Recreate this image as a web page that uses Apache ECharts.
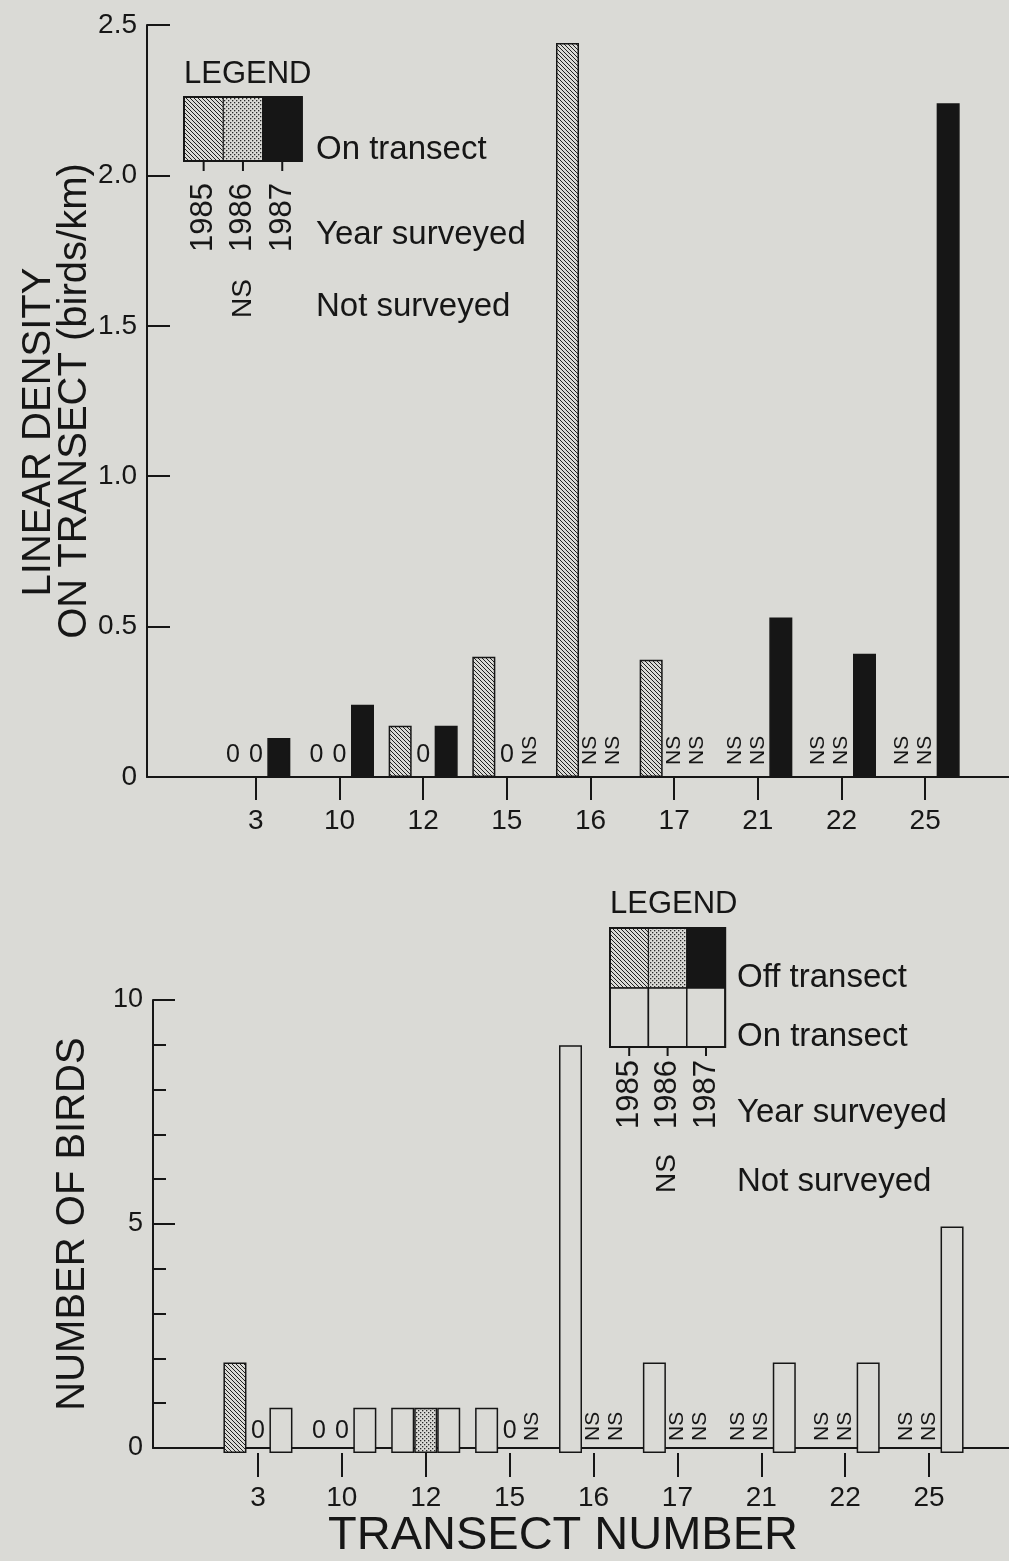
<!DOCTYPE html>
<html>
<head>
<meta charset="utf-8">
<script src="https://cdn.jsdelivr.net/npm/echarts@6/dist/echarts.min.js"></script>
<style>
html,body{margin:0;padding:0;background:#dadad6;}
#chart{width:1009px;height:1561px;}
</style>
</head>
<body>
<div id="chart"></div>
<script>
// ---------- data ----------
const transects = ['3', '10', '12', '15', '16', '17', '21', '22', '25'];
const yearNames = ['1985', '1986', '1987'];
// Linear density on transect (birds/km); null = not surveyed (NS)
const density1985 = [0, 0, 0.17, 0.40, 2.44, 0.39, null, null, null];
const density1986 = [0, 0, 0, 0, null, null, null, null, null];
const density1987 = [0.13, 0.24, 0.17, null, null, null, 0.53, 0.41, 2.24];
// Number of birds; null = not surveyed (NS)
const onBirds1985 = [0, 0, 1, 1, 9, 2, null, null, null];
const offBirds1985 = [2, 0, 0, 0, 0, 0, null, null, null];
const onBirds1986 = [0, 0, 0, 0, null, null, null, null, null];
const offBirds1986 = [0, 0, 1, 0, null, null, null, null, null];
const onBirds1987 = [1, 1, 1, null, null, null, 2, 2, 5];
const offBirds1987 = [0, 0, 0, null, null, null, 0, 0, 0];
const densityTicks = [0, 0.5, 1.0, 1.5, 2.0, 2.5];
const birdTicks = [0, 5, 10];

// ---------- styles ----------
const PAPER = '#dadad6';
const INK = '#161616';
const FONT = '"Liberation Sans", Arial, Helvetica, sans-serif';

function hatchCanvas() {
  const n = 4;
  const c = document.createElement('canvas');
  c.width = n; c.height = n;
  const g = c.getContext('2d');
  g.fillStyle = PAPER; g.fillRect(0, 0, n, n);
  g.strokeStyle = INK; g.lineWidth = 0.95;
  g.beginPath();
  g.moveTo(-1, -1); g.lineTo(n + 1, n + 1);
  g.moveTo(-1, n - 1); g.lineTo(1, n + 1);
  g.moveTo(n - 1, -1); g.lineTo(n + 1, 1);
  g.stroke();
  return c;
}
function dotCanvas() {
  const c = document.createElement('canvas');
  c.width = 4; c.height = 4;
  const g = c.getContext('2d');
  g.fillStyle = PAPER; g.fillRect(0, 0, 4, 4);
  g.fillStyle = '#2a2a2a';
  g.fillRect(0, 0, 1.3, 1.3);
  g.fillRect(2, 2, 1.3, 1.3);
  return c;
}
const hatchFill = { image: hatchCanvas(), repeat: 'repeat' };
const dotFill = { image: dotCanvas(), repeat: 'repeat' };
const yearFills = [hatchFill, dotFill, INK];

const zeroLabel = { show: true, position: 'top', distance: 9, formatter: '0', fontSize: 25, color: INK, fontFamily: FONT };
const nsLabel = { show: true, position: 'insideBottom', distance: 12, formatter: 'NS', rotate: 90, align: 'left', verticalAlign: 'middle', fontSize: 21, color: INK, fontFamily: FONT };
const emptyStyle = { color: 'rgba(0,0,0,0)', borderWidth: 0 };

function densityItem(v) {
  if (v === null) return { value: 0, label: nsLabel, itemStyle: emptyStyle };
  if (v === 0) return { value: 0, label: zeroLabel, itemStyle: emptyStyle };
  return v;
}
function onItem(on, off) {
  if (on === null) return { value: 0, label: nsLabel, itemStyle: emptyStyle };
  if (on + off === 0) return { value: 0, label: zeroLabel, itemStyle: emptyStyle };
  if (on === 0) return { value: 0, itemStyle: emptyStyle };
  return on;
}
function offItem(off) {
  if (off === null || off === 0) return { value: 0, itemStyle: emptyStyle };
  return off;
}

const densityYears = [density1985, density1986, density1987];
const onYears = [onBirds1985, onBirds1986, onBirds1987];
const offYears = [offBirds1985, offBirds1986, offBirds1987];

const axisLineStyle = { color: INK, width: 2 };
const BAR_W = 23;

const series = [];
densityYears.forEach((arr, i) => {
  series.push({
    type: 'bar', name: yearNames[i], xAxisIndex: 1, yAxisIndex: 1,
    barWidth: BAR_W, barGap: '0%',
    data: arr.map(densityItem),
    itemStyle: { color: yearFills[i], borderColor: INK, borderWidth: 1.5 },
    emphasis: { disabled: true }, silent: true
  });
});
onYears.forEach((arr, i) => {
  series.push({
    type: 'bar', name: 'On ' + yearNames[i], xAxisIndex: 3, yAxisIndex: 3,
    stack: 's' + yearNames[i], barWidth: BAR_W, barGap: '0%',
    data: arr.map((v, k) => onItem(v, offYears[i][k] === null ? 0 : offYears[i][k])),
    itemStyle: { color: PAPER, borderColor: INK, borderWidth: 1.5 },
    emphasis: { disabled: true }, silent: true
  });
  series.push({
    type: 'bar', name: 'Off ' + yearNames[i], xAxisIndex: 3, yAxisIndex: 3,
    stack: 's' + yearNames[i], barWidth: BAR_W, barGap: '0%',
    data: offYears[i].map(offItem),
    itemStyle: { color: yearFills[i], borderColor: INK, borderWidth: 1.5 },
    emphasis: { disabled: true }, silent: true
  });
});

// ---------- legends (graphic) ----------
function txt(x, y, text, size) {
  return {
    type: 'text', x: x, y: y, silent: true,
    style: { text: text, fill: INK, fontSize: size, fontFamily: FONT, align: 'left', verticalAlign: 'middle' }
  };
}
function vtxt(x, y, text, size) {
  return {
    type: 'text', x: x, y: y, rotation: Math.PI / 2, silent: true,
    style: { text: text, fill: INK, fontSize: size, fontFamily: FONT, align: 'left', verticalAlign: 'middle' }
  };
}
function line(x1, y1, x2, y2, w) {
  return { type: 'line', silent: true, shape: { x1: x1, y1: y1, x2: x2, y2: y2 }, style: { stroke: INK, lineWidth: w || 2 } };
}
function rect(x, y, w, h, fill, lw) {
  return { type: 'rect', silent: true, shape: { x: x, y: y, width: w, height: h }, style: { fill: fill, stroke: INK, lineWidth: lw || 1 } };
}

const graphics = [];
// top legend
(function () {
  const x0 = 184, y0 = 97, cw = 39.3, h = 64;
  graphics.push(txt(x0, 74, 'LEGEND', 31));
  for (let i = 0; i < 3; i++) graphics.push(rect(x0 + i * cw, y0, cw, h, yearFills[i], 1));
  graphics.push(rect(x0, y0, cw * 3, h, 'none', 2));
  for (let i = 0; i < 3; i++) {
    const cx = x0 + (i + 0.5) * cw;
    graphics.push(line(cx, y0 + h, cx, y0 + h + 10, 2));
    graphics.push(vtxt(cx, 252, yearNames[i], 31));
  }
  graphics.push(vtxt(x0 + 1.5 * cw, 318, 'NS', 28));
  graphics.push(txt(316, 150, 'On transect', 33));
  graphics.push(txt(316, 235, 'Year surveyed', 33));
  graphics.push(txt(316, 307, 'Not surveyed', 33));
})();
// bottom legend
(function () {
  const x0 = 610, y0 = 928, cw = 38.4, h1 = 60, h2 = 59;
  graphics.push(txt(x0, 904, 'LEGEND', 31));
  for (let i = 0; i < 3; i++) {
    graphics.push(rect(x0 + i * cw, y0, cw, h1, yearFills[i], 1));
    graphics.push(rect(x0 + i * cw, y0 + h1, cw, h2, PAPER, 1.5));
  }
  graphics.push(rect(x0, y0, cw * 3, h1 + h2, 'none', 2));
  for (let i = 0; i < 3; i++) {
    const cx = x0 + (i + 0.5) * cw;
    graphics.push(line(cx, y0 + h1 + h2, cx, y0 + h1 + h2 + 9, 2));
    graphics.push(vtxt(cx, 1129, yearNames[i], 31));
  }
  graphics.push(vtxt(x0 + 1.5 * cw, 1193, 'NS', 28));
  graphics.push(txt(737, 978, 'Off transect', 33));
  graphics.push(txt(737, 1037, 'On transect', 33));
  graphics.push(txt(737, 1113, 'Year surveyed', 33));
  graphics.push(txt(737, 1182, 'Not surveyed', 33));
})();

const hidden = { show: false };
const option = {
  backgroundColor: PAPER,
  animation: false,
  textStyle: { fontFamily: FONT, color: INK },
  grid: [
    { left: 147, right: 0, top: 25, height: 752 },
    { left: 214, width: 753, top: 25, height: 752 },
    { left: 153, right: 0, top: 1000, height: 453 },
    { left: 216, width: 755, top: 1000, height: 453 }
  ],
  xAxis: [
    { type: 'value', gridIndex: 0, min: 0, max: 1, axisLine: { show: true, onZero: false, lineStyle: axisLineStyle }, axisTick: hidden, axisLabel: hidden, splitLine: hidden },
    { type: 'category', gridIndex: 1, data: transects, axisLine: hidden,
      axisTick: { show: true, alignWithLabel: true, length: 23, lineStyle: { color: INK, width: 2 } },
      axisLabel: { fontSize: 28, color: INK, margin: 30, fontFamily: FONT }, splitLine: hidden },
    { type: 'value', gridIndex: 2, min: 0, max: 1, axisLine: { show: true, onZero: false, lineStyle: axisLineStyle }, axisTick: hidden, axisLabel: hidden, splitLine: hidden,
      name: 'TRANSECT NUMBER', nameLocation: 'middle', nameGap: 65, nameMoveOverlap: false,
      nameTextStyle: { fontSize: 47, color: INK, fontFamily: FONT, padding: [0, 36, 0, 0] } },
    { type: 'category', gridIndex: 3, data: transects, axisLine: hidden,
      axisTick: { show: true, alignWithLabel: true, length: 24, lineStyle: { color: INK, width: 2 } },
      axisLabel: { fontSize: 28, color: INK, margin: 31, fontFamily: FONT }, splitLine: hidden }
  ],
  yAxis: [
    { type: 'value', gridIndex: 0, min: 0, max: 2.5, interval: 0.5,
      axisLine: { show: true, onZero: false, lineStyle: axisLineStyle },
      axisTick: { show: true, inside: true, length: 23, lineStyle: { color: INK, width: 2 } },
      axisLabel: { fontSize: 28, color: INK, margin: 10, fontFamily: FONT,
        formatter: v => (densityTicks.indexOf(v) === 0 ? '0' : v.toFixed(1)) },
      splitLine: hidden,
      name: 'ON TRANSECT (birds/km)', nameLocation: 'middle', nameRotate: 90, nameGap: 52, nameMoveOverlap: false,
      nameTextStyle: { fontSize: 40, color: INK, fontFamily: FONT } },
    { type: 'value', gridIndex: 1, min: 0, max: 2.5, interval: 0.5,
      axisLine: hidden, axisTick: hidden, axisLabel: hidden, splitLine: hidden,
      name: 'LINEAR DENSITY', nameLocation: 'middle', nameRotate: 90, nameGap: 155, nameMoveOverlap: false,
      nameTextStyle: { fontSize: 40, color: INK, fontFamily: FONT, padding: [0, 62, 0, 0] } },
    { type: 'value', gridIndex: 2, min: 0, max: 10, interval: 5,
      axisLine: { show: true, onZero: false, lineStyle: axisLineStyle },
      axisTick: { show: true, inside: true, length: 22, lineStyle: { color: INK, width: 2 } },
      minorTick: { show: true, splitNumber: 5, length: 13, lineStyle: { color: INK, width: 2 } },
      axisLabel: { fontSize: 27, color: INK, margin: 10, fontFamily: FONT },
      splitLine: hidden, minorSplitLine: hidden,
      name: 'NUMBER OF BIRDS', nameLocation: 'middle', nameRotate: 90, nameGap: 60, nameMoveOverlap: false,
      nameTextStyle: { fontSize: 40, color: INK, fontFamily: FONT } },
    { type: 'value', gridIndex: 3, min: 0, max: 10, interval: 5,
      axisLine: hidden, axisTick: hidden, axisLabel: hidden, splitLine: hidden }
  ],
  series: series,
  graphic: graphics
};

const chart = echarts.init(document.getElementById('chart'), null, { renderer: 'canvas' });
chart.setOption(option);
</script>
</body>
</html>
